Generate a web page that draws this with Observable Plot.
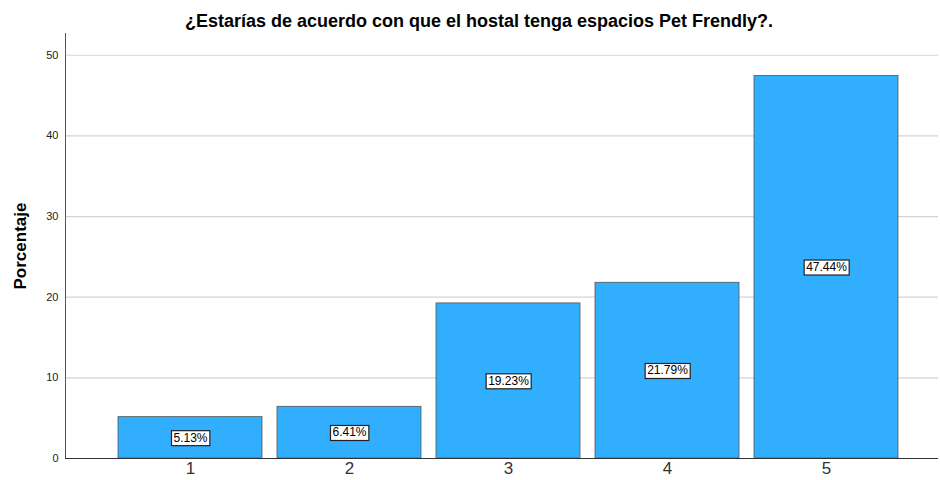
<!DOCTYPE html>
<html><head><meta charset="utf-8">
<script src="https://cdn.jsdelivr.net/npm/d3@7"></script>
<script src="https://cdn.jsdelivr.net/npm/@observablehq/plot@0.6"></script>
<style>body{margin:0;background:#fff;font-family:"Liberation Sans",Arial,sans-serif}</style>
</head><body><div id="chart"></div>
<script>
const categories = ["1","2","3","4","5"];
const values = [5.13, 6.41, 19.23, 21.79, 47.44];
const yTicks = [0,10,20,30,40,50];
const title = "¿Estarías de acuerdo con que el hostal tenga espacios Pet Frendly?.";
const yLabel = "Porcentaje";

const data = categories.map((c,i)=>({cat:c, value:values[i], label:values[i].toFixed(2)+"%"}));

const plot = Plot.plot({
  width: 940, height: 480,
  marginTop: 33, marginBottom: 22, marginLeft: 65, marginRight: 2,
  style: {fontFamily: '"Liberation Sans", Arial, sans-serif', background: "#fff"},
  x: {domain: categories, type: "band", range: [109.25, 906.75], paddingInner: 0.097, paddingOuter: 0.0485, label: null},
  y: {domain: [0, 52.7], label: null},
  marks: [
    Plot.ruleY(yTicks.filter(d=>d>0), {stroke: "#d4d4d4", strokeWidth: 1.2}),
    Plot.barY(data, {x: "cat", y: "value", fill: "#32aeff", stroke: "#555", strokeWidth: 0.8}),
    Plot.axisY({ticks: yTicks, tickSize: 0, tickPadding: 7, fontSize: 11, fill: "#222"}),
    Plot.axisX({tickSize: 0, tickPadding: 3, fontSize: 17, fill: "#333"}),
    Plot.frame({anchor: "left", stroke: "#555", strokeWidth: 1}),
    Plot.ruleY([0], {stroke: "#333", strokeWidth: 1.2}),
    Plot.text(data, {x: "cat", y: d=>d.value/2, text: "label", fontSize: 12, fill: "#000", className: "barlabel"}),
    Plot.text([title], {frameAnchor: "top", lineAnchor: "middle", dy: -12, dx: -23, fontSize: 18, fontWeight: "bold", fill: "#000"}),
    Plot.text([yLabel], {frameAnchor: "left", textAnchor: "middle", dx: -45, rotate: -90, fontSize: 17, fontWeight: "bold", fill: "#000"})
  ]
});
document.getElementById("chart").appendChild(plot);

// white boxes behind bar labels
const g = plot.querySelector("g.barlabel") || plot.querySelector('[aria-label="text"]');
if (g) {
  const texts = Array.from(g.querySelectorAll("text"));
  texts.forEach(t => {
    const b = t.getBBox();
    const r = document.createElementNS("http://www.w3.org/2000/svg", "rect");
    r.setAttribute("x", b.x - 2);
    r.setAttribute("y", b.y);
    r.setAttribute("width", b.width + 4);
    r.setAttribute("height", b.height + 1);
    r.setAttribute("fill", "#fff");
    r.setAttribute("stroke", "#222");
    r.setAttribute("stroke-width", "1.2");
    const tr = t.getAttribute("transform");
    if (tr) r.setAttribute("transform", tr);
    g.insertBefore(r, t);
  });
}
</script></body></html>
